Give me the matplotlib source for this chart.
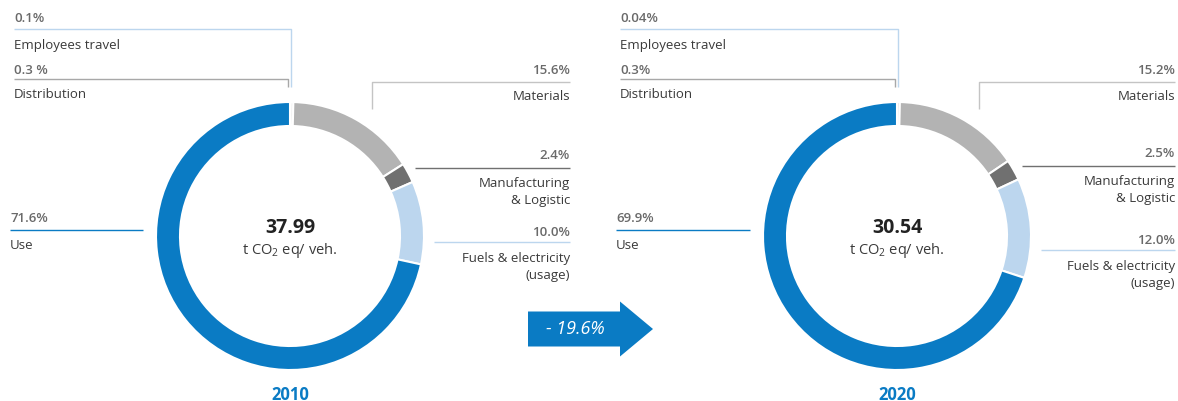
import matplotlib
matplotlib.use('Agg')
import matplotlib.pyplot as plt
from matplotlib.patches import FancyArrow

plt.rcParams['font.family'] = ['Open Sans', 'DejaVu Sans']
plt.rcParams['mathtext.fontset'] = 'custom'
plt.rcParams['mathtext.rm'] = 'Open Sans'
plt.rcParams['mathtext.default'] = 'regular'

# emissions breakdown per vehicle
years = ['2010', '2020']
categories = ['Employees travel', 'Distribution', 'Materials',
              'Manufacturing\n& Logistic', 'Fuels & electricity\n(usage)', 'Use']
shares_2010 = [0.1, 0.3, 15.6, 2.4, 10.0, 71.6]
shares_2020 = [0.04, 0.3, 15.2, 2.5, 12.0, 69.9]
pct_labels_2010 = ['0.1%', '0.3 %', '15.6%', '2.4%', '10.0%', '71.6%']
pct_labels_2020 = ['0.04%', '0.3%', '15.2%', '2.5%', '12.0%', '69.9%']
totals = [37.99, 30.54]
change = -19.6

colors = ['#bcd6ee', '#c4c4c4', '#b3b3b3', '#707070', '#bcd6ee', '#0a7bc4']
BLUE = '#0a7bc4'
TXT = '#3a3a3a'
PCT = '#6a6a6a'

W, H = 1178, 402
fig = plt.figure(figsize=(W / 100, H / 100), dpi=100)
ax = fig.add_axes([0, 0, 1, 1])


def Y(py):
    # pixel rows run downwards, data y upwards
    return H - py


def leader(pts, color):
    xs = [p[0] for p in pts]
    ys = [Y(p[1]) for p in pts]
    ax.plot(xs, ys, color=color, lw=1.0, solid_capstyle='butt')


def pct(x, y, s, ha='left'):
    ax.text(x, Y(y), s, ha=ha, va='center', fontsize=9.5, color=PCT, fontweight='semibold')


def lab(x, y, s, ha='left'):
    ax.text(x, Y(y), s, ha=ha, va='center', fontsize=9.5, color=TXT, linespacing=1.35,
            multialignment=ha)


def donut(cx, cy, shares, pcts, total, year, lx, rx, ly):
    ax.pie(shares, colors=colors, startangle=90, counterclock=False,
           center=(cx, Y(cy)), radius=134,
           wedgeprops=dict(width=24, edgecolor='white', linewidth=1.5))
    ax.text(cx, Y(cy - 9), f'{total:.2f}', ha='center', va='center',
            fontsize=14, fontweight='bold', color='#222222')
    ax.text(cx, Y(cy + 13), 't CO$_2$ eq/ veh.', ha='center', va='center',
            fontsize=10.5, color=TXT)
    ax.text(cx, Y(395), year, ha='center', va='center', fontsize=12,
            fontweight='bold', color=BLUE)

    # left column: employees travel, distribution, use
    pct(lx, 18, pcts[0]); leader([(lx, 30), (cx + 1, 30), (cx + 1, 88)], colors[0])
    lab(lx, 46, categories[0])
    pct(lx, 70, pcts[1]); leader([(lx, 80), (cx - 2, 80), (cx - 2, 88)], '#a8a8a8')
    lab(lx, 95, categories[1])
    pct(lx - 4, 219, pcts[5]); leader([(lx - 4, 231), (cx - 147, 231)], colors[5])
    lab(lx - 4, 246, categories[5])

    # right column: materials, manufacturing, fuels
    pct(rx, 71, pcts[2], 'right'); leader([(cx + 82, 110), (cx + 82, 83), (rx, 83)], '#c4c4c4')
    lab(rx, 97, categories[2], 'right')
    pct(rx, ly[0], pcts[3], 'right'); leader([(cx + 125, ly[0] + 13), (rx, ly[0] + 13)], colors[3])
    lab(rx, ly[0] + 36, categories[3], 'right')
    pct(rx, ly[1], pcts[4], 'right'); leader([(cx + 144, ly[1] + 10), (rx, ly[1] + 10)], '#bcd6ee')
    lab(rx, ly[1] + 34, categories[4], 'right')


donut(290, 237, shares_2010, pct_labels_2010, totals[0], years[0], 14, 570, (156, 233))
donut(897, 237, shares_2020, pct_labels_2020, totals[1], years[1], 620, 1175, (154, 241))

# change arrow between the two years
ax.add_patch(FancyArrow(528, Y(330), 125, 0, width=35, head_width=55, head_length=33,
                        length_includes_head=True, color=BLUE, lw=0))
ax.text(575, Y(329), f'- {abs(change):.1f}%', ha='center', va='center', fontsize=13,
        style='italic', color='white')

ax.set_xlim(0, W)
ax.set_ylim(0, H)
ax.set_aspect('equal')
ax.axis('off')
fig.savefig('out.png', dpi=100, facecolor='white')
